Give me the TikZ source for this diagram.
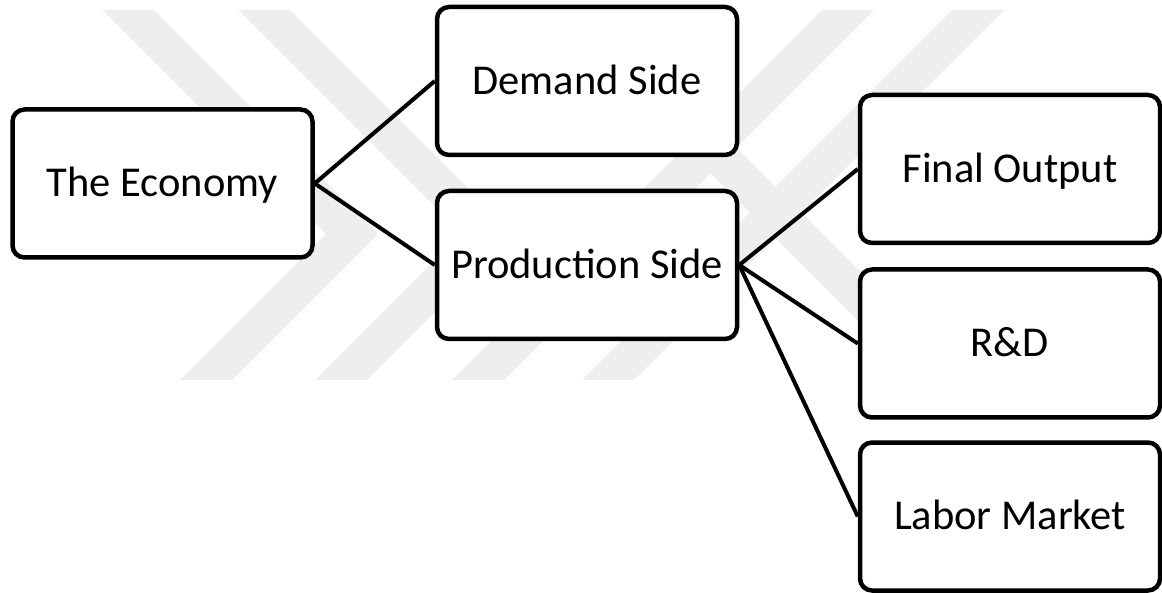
\documentclass[tikz,border=0pt]{standalone}
\usepackage{fontspec}
\setmainfont{Carlito}
\definecolor{wm}{RGB}{238,238,238}
\tikzset{
  box/.style={draw=black, line width=4.5pt, fill=white, rounded corners=12pt,
    minimum width=300pt, minimum height=148pt, inner sep=0pt,
    font=\fontsize{42.5}{50}\selectfont, text height=26.9pt, text depth=0pt},
  link/.style={draw=black, line width=4pt},
  wmband/.style={fill=wm, draw=none}
}
\begin{document}
\begin{tikzpicture}[x=1pt,y=-1pt]
\useasboundingbox (0,0) rectangle (1162,593);
% faint background watermark
\fill[wmband] (102,10) -- (154,10) -- (378,234) -- (232,380) -- (180,380) -- (326,234) -- cycle;
\fill[wmband] (238,10) -- (290,10) -- (513.5,233.5) -- (367,380) -- (315,380) -- (461.5,233.5) -- cycle;
\fill[wmband] (452,380) -- (504,380) -- (874,10) -- (822,10) -- cycle;
\fill[wmband] (582,380) -- (634,380) -- (1004,10) -- (952,10) -- cycle;
\fill[wmband] (547,10) -- (599,10) -- (969,380) -- (917,380) -- cycle;
% boxes
\node[box] (econ) at (162.5,183.5) {The Economy};
\node[box] (demand) at (587,81) {Demand Side};
\node[box] (prod) at (587,265) {Production Side};
\node[box] (final) at (1010,169) {Final Output};
\node[box] (rd) at (1010,343.5) {R\&D};
\node[box] (labor) at (1010,516.5) {Labor Market};
% connectors
\draw[link] (econ.east) -- (demand.west);
\draw[link] (econ.east) -- (prod.west);
\draw[link] (prod.east) -- (final.west);
\draw[link] (prod.east) -- (rd.west);
\draw[link] (prod.east) -- (labor.west);
\end{tikzpicture}
\end{document}
